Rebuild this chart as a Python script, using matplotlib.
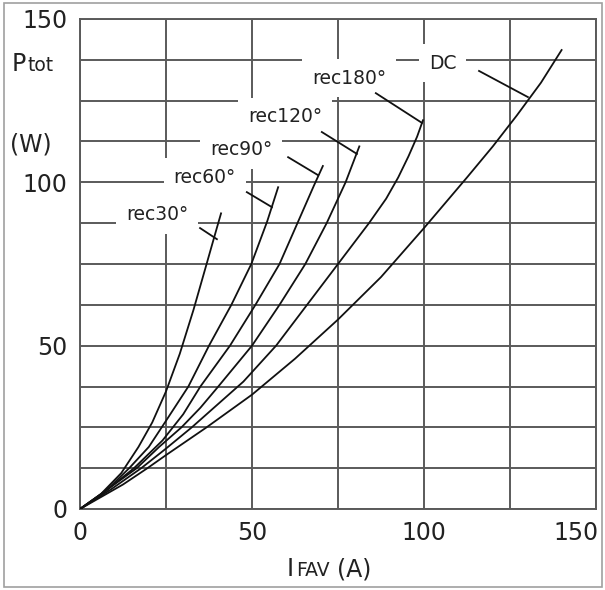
import matplotlib
matplotlib.use("Agg")
import matplotlib.pyplot as plt
from matplotlib.patches import Rectangle
from matplotlib.transforms import ScaledTranslation

# curves: forward current I_FAV (A) vs power loss P_tot (W)
i_rec30 = [0, 6, 12, 17, 21, 25, 29, 33, 36.8, 39.5, 41]
p_rec30 = [0, 4.5, 11, 19, 26.5, 36, 47.5, 61, 75, 85, 90.5]

i_rec60 = [0, 7, 14.3, 20, 25, 31.5, 37.5, 44, 49.8, 54.4, 57.6]
p_rec60 = [0, 5, 12.5, 19, 27, 37.5, 50, 62.5, 75, 88, 98.5]

i_rec90 = [0, 8, 15.7, 24, 30, 35, 43.6, 51, 58, 63, 68, 70.6]
p_rec90 = [0, 6, 12.5, 21, 29, 37.5, 50, 62.5, 75, 87, 99, 105]

i_rec120 = [0, 8, 16.5, 23, 29.5, 35, 40.2, 50, 58, 65.5, 71.7, 77.2, 81.2]
p_rec120 = [0, 6, 12.5, 19, 25, 31, 37.5, 50, 62.5, 75, 87.5, 100, 111]

i_rec180 = [0, 9, 17.8, 25, 32.5, 40, 47.5, 57, 66, 75, 84, 89, 92.5, 95.5, 98, 99.7]
p_rec180 = [0, 6, 12.5, 18.5, 25, 32, 39, 50, 62.5, 75, 87.5, 95, 101.5, 108, 114, 119]

i_dc = [0, 12.5, 19.6, 25, 36.8, 50, 62.5, 75, 87.5, 100, 112.5, 120, 127, 134, 140]
p_dc = [0, 7.5, 12.5, 16.5, 25, 35, 46, 58, 71, 86, 101.5, 111, 120.5, 130.5, 140.5]

labels = ["rec30°", "rec60°", "rec90°", "rec120°", "rec180°", "DC"]
label_xy = [(22.4, 90.0), (36.3, 101.6), (46.8, 109.9), (59.6, 120.0), (78.2, 131.9), (105.5, 136.5)]
leader_from = [(34.9, 86.0), (48.5, 97.0), (60.5, 107.7), (70.3, 115.4), (86.0, 127.3), (116.0, 134.1)]
leader_to = [(39.8, 82.6), (55.8, 92.4), (69.2, 102.2), (80.5, 108.7), (99.4, 118.2), (130.2, 126.1)]

x_ticks = [0, 25, 50, 75, 100, 125, 150]
x_ticklabels = ["0", "", "50", "", "100", "", "150"]
y_ticks = [0, 12.5, 25, 37.5, 50, 62.5, 75, 87.5, 100, 112.5, 125, 137.5, 150]
y_ticklabels = ["0", "", "", "", "50", "", "", "", "100", "", "", "", "150"]

W, H = 605, 590
fig = plt.figure(figsize=(6.05, 5.90), dpi=100)
ax = fig.add_axes([80 / W, 1 - 509 / H, 516 / W, 490 / H])

grid_c = "#5a5a5a"
curves = [(i_rec30, p_rec30), (i_rec60, p_rec60), (i_rec90, p_rec90),
          (i_rec120, p_rec120), (i_rec180, p_rec180), (i_dc, p_dc)]
for xs, ys in curves:
    ax.plot(xs, ys, color="#111111", lw=1.3, zorder=3)

for txt, (tx, ty), (fx, fy), (ex, ey) in zip(labels, label_xy, leader_from, leader_to):
    ax.text(tx, ty, txt, fontsize=13.5, ha="center", va="center", color="#222222",
            bbox=dict(fc="white", ec="none", pad=7), zorder=4)
    ax.plot([fx, ex], [fy, ey], color="#111111", lw=1.3, zorder=5)

ax.set_xlim(0, 150)
ax.set_ylim(0, 150)
ax.set_xticks(x_ticks)
ax.set_xticklabels(x_ticklabels)
ax.set_yticks(y_ticks)
ax.set_yticklabels(y_ticklabels)
ax.tick_params(length=0, labelsize=17, colors="#222222", pad=9)
ax.grid(True, color=grid_c, lw=1.4)
ax.set_axisbelow(True)
for s in ax.spines.values():
    s.set_color(grid_c)
    s.set_linewidth(1.4)

# last x label sits inside the frame edge, like the reference
last = ax.get_xticklabels()[-1]
last.set_horizontalalignment("right")
last.set_transform(last.get_transform() + ScaledTranslation(3 / 100, 0, fig.dpi_scale_trans))

# axis titles with small subscript-like parts on the same baseline
def ftext(px, py, s, size):
    fig.text(px / W, 1 - py / H, s, fontsize=size, ha="left", va="baseline", color="#222222")

ftext(12, 71, "P", 17)
ftext(27, 71, "tot", 13.5)
ftext(10, 152, "(W)", 17)
ftext(287, 576, "I", 17)
ftext(296, 576, "FAV", 13.5)
ftext(337, 576, "(A)", 17)

fig.patches.append(Rectangle((4 / W, 3 / H), 598 / W, 584 / H, transform=fig.transFigure,
                             fill=False, ec="#a0a0a0", lw=1.2))

fig.savefig("out.png", dpi=100)
